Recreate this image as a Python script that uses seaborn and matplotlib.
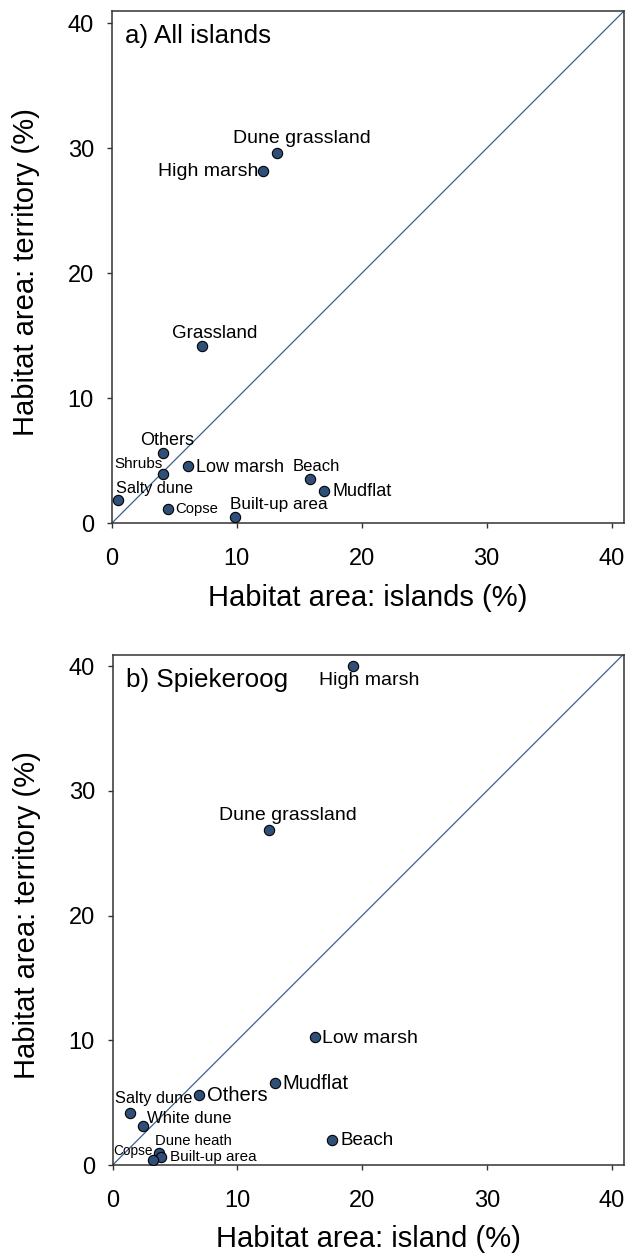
import matplotlib
matplotlib.use("Agg")
import matplotlib.pyplot as plt
import seaborn as sns
import pandas as pd

# ---------------- data ----------------
a_labels = ["Dune grassland", "High marsh", "Grassland", "Others", "Shrubs",
            "Low marsh", "Beach", "Mudflat", "Salty dune", "Copse", "Built-up area"]
a_x = [13.2, 12.1, 7.25, 4.1, 4.1, 6.1, 15.9, 17.0, 0.5, 4.5, 9.85]
a_y = [29.6, 28.2, 14.2, 5.65, 3.95, 4.6, 3.55, 2.55, 1.9, 1.15, 0.5]

b_labels = ["High marsh", "Dune grassland", "Low marsh", "Mudflat", "Others",
            "Salty dune", "White dune", "Beach", "Dune heath", "Built-up area", "Copse"]
b_x = [19.25, 12.5, 16.2, 13.0, 6.9, 1.35, 2.4, 17.6, 3.7, 3.9, 3.2]
b_y = [40.0, 26.9, 10.25, 6.6, 5.6, 4.15, 3.1, 2.0, 1.0, 0.65, 0.4]

ticks = [0, 10, 20, 30, 40]
titles = ["a) All islands", "b) Spiekeroog"]
xlabels = ["Habitat area: islands (%)", "Habitat area: island (%)"]
ylabel = "Habitat area: territory (%)"

# ---------------- layout (label offsets in pixels, ha, fontsize) ----------------
a_layout = [(25, 10, "center", 14), (-5, -5, "right", 14), (12, 8, "center", 13.5),
            (4, 8, "center", 13), (0, 6, "right", 11), (8, -6, "left", 13),
            (6, 8, "center", 12), (8, -5, "left", 13), (-2, 7, "left", 11.7),
            (7, -4, "left", 10.7), (-5, 8, "left", 12.3)]
b_layout = [(-34, -19, "left", 14), (-50, 10, "left", 14), (7, -6, "left", 14),
            (8, -6, "left", 14.5), (8, -6, "left", 14.5), (-15, 10, "left", 11.8),
            (4, 3, "left", 12), (8, -5, "left", 13.5), (-4, 8, "left", 10.7),
            (9, -4, "left", 11), (0, 5, "right", 9.8)]

sns.set_theme(style="white")
plt.rcParams["font.family"] = ["Liberation Sans", "DejaVu Sans"]
plt.rcParams["text.color"] = "black"
plt.rcParams["axes.labelcolor"] = "black"
plt.rcParams["xtick.color"] = "black"
plt.rcParams["ytick.color"] = "black"

W, H = 626, 1256
fig = plt.figure(figsize=(W / 100, H / 100), dpi=100)

rects = [
    (111.7 / W, (H - 523.3) / H, 512.3 / W, 512.3 / H),
    (112.7 / W, (H - 1165.0) / H, 511.3 / W, 510.0 / H),
]
ylims = [41.0, 40.9]

marker_color = "#2f4f78"
line_color = "#3d5f8f"
frame_color = "#333333"

panels = [(a_labels, a_x, a_y, a_layout), (b_labels, b_x, b_y, b_layout)]

for i, (labels, xs, ys, layout) in enumerate(panels):
    ax = fig.add_axes(rects[i])
    df = pd.DataFrame({"habitat": labels, "x": xs, "y": ys})
    ax.axline((0, 0), slope=1, color=line_color, lw=0.9, zorder=1)
    sns.scatterplot(data=df, x="x", y="y", ax=ax, s=55, color=marker_color,
                    edgecolor="black", linewidth=0.8, zorder=3, legend=False)
    for lab, xv, yv, (dx, dy, ha, fs) in zip(labels, xs, ys, layout):
        ax.annotate(lab, (xv, yv), xytext=(dx, dy), textcoords="offset pixels",
                    ha=ha, va="baseline", fontsize=fs, color="black", zorder=4)
    ax.set_xlim(0, 41.0)
    ax.set_ylim(0, ylims[i])
    ax.set_xticks(ticks)
    ax.set_yticks(ticks)
    ax.tick_params(axis="both", which="major", direction="out", length=3.8, width=1.0,
                   color=frame_color, labelcolor="black", labelsize=17,
                   left=True, bottom=True)
    ax.tick_params(axis="x", pad=14)
    ax.tick_params(axis="y", pad=9)
    for sp in ax.spines.values():
        sp.set_visible(True)
        sp.set_color(frame_color)
        sp.set_linewidth(1.1)
    ax.set_xlabel(xlabels[i], fontsize=21, color="black")
    ax.set_ylabel(ylabel, fontsize=21, color="black")
    ax.xaxis.set_label_coords(0.5, -0.118)
    ax.yaxis.set_label_coords(-0.14, 0.49)
    ax.annotate(titles[i], xy=(0, 1), xycoords="axes fraction", xytext=(13, -32),
                textcoords="offset pixels", ha="left", va="baseline",
                fontsize=18.7, color="black")
    ax.set_facecolor("white")

fig.savefig("out.png", dpi=100, facecolor="white")
